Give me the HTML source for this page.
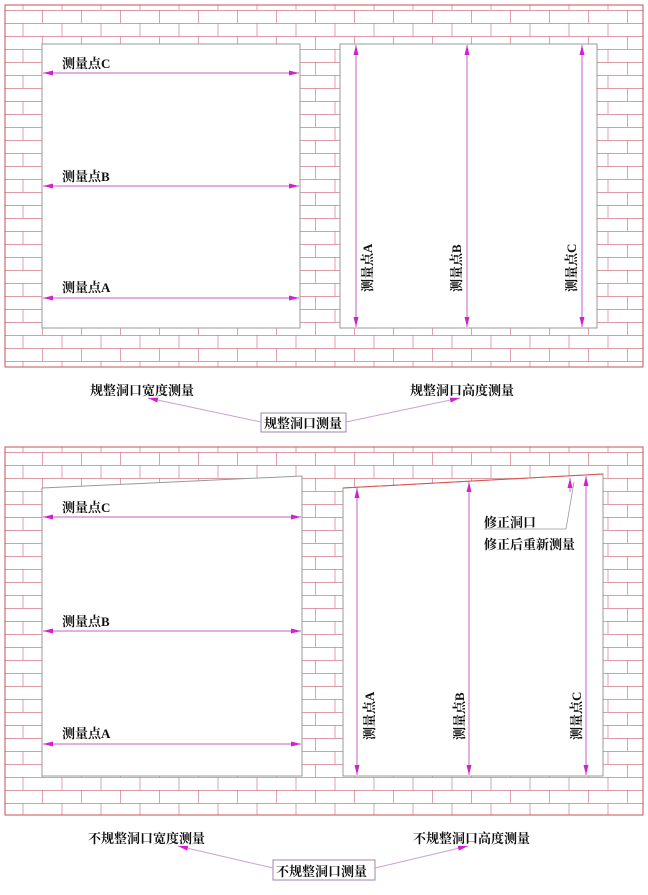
<!DOCTYPE html>
<html><head><meta charset="utf-8"><style>
html,body{margin:0;padding:0;background:#fff}
svg{display:block}
text{font-family:"Liberation Serif","Noto Serif CJK SC",serif;font-size:13px;font-weight:bold;fill:#111}
</style></head><body>
<svg width="648" height="895" viewBox="0 0 648 895" xmlns="http://www.w3.org/2000/svg">
<defs>
<pattern id="brick" x="3" y="10" width="39" height="26" patternUnits="userSpaceOnUse">
<path d="M0 0.5H39M0 13.5H39M0.5 0V13M20 13V26" stroke="#d27a88" stroke-width="0.7" fill="none"/>
</pattern>
<marker id="ah" markerWidth="10" markerHeight="5" refX="10" refY="2.5" orient="auto" markerUnits="userSpaceOnUse">
<path d="M0 0L10 2.5L0 5Z" fill="#d020d0"/>
</marker>
<marker id="as" markerWidth="10" markerHeight="5" refX="0" refY="2.5" orient="auto" markerUnits="userSpaceOnUse">
<path d="M10 0L0 2.5L10 5Z" fill="#d020d0"/>
</marker>
</defs>
<!-- top wall -->
<rect x="5" y="5" width="638" height="362" fill="url(#brick)" stroke="#c9505a" stroke-width="1"/>
<rect x="42" y="44" width="258" height="284" fill="#fff" stroke="#999" stroke-width="1"/>
<rect x="340" y="44" width="257" height="284" fill="#fff" stroke="#999" stroke-width="1"/>
<g stroke="#c060c0" stroke-width="1">
<line x1="43" y1="73" x2="299" y2="73" marker-start="url(#as)" marker-end="url(#ah)"/>
<line x1="43" y1="186" x2="299" y2="186" marker-start="url(#as)" marker-end="url(#ah)"/>
<line x1="43" y1="298" x2="299" y2="298" marker-start="url(#as)" marker-end="url(#ah)"/>
<line x1="356" y1="45" x2="356" y2="327" marker-start="url(#as)" marker-end="url(#ah)"/>
<line x1="467" y1="45" x2="467" y2="327" marker-start="url(#as)" marker-end="url(#ah)"/>
<line x1="582" y1="45" x2="582" y2="327" marker-start="url(#as)" marker-end="url(#ah)"/>
</g>
<text x="62" y="68">测量点C</text>
<text x="62" y="181">测量点B</text>
<text x="62" y="292">测量点A</text>
<text transform="translate(372,292) rotate(-90)">测量点A</text>
<text transform="translate(461,292) rotate(-90)">测量点B</text>
<text transform="translate(576,292) rotate(-90)">测量点C</text>
<!-- top captions -->
<text x="90" y="395">规整洞口宽度测量</text>
<text x="410" y="395">规整洞口高度测量</text>
<rect x="261" y="413" width="85" height="19" fill="#fff" stroke="#a080b0" stroke-width="1"/>
<text x="264" y="428">规整洞口测量</text>
<g stroke="#c8a0d8" stroke-width="1">
<line x1="261" y1="422" x2="148" y2="398" marker-end="url(#ah)"/>
<line x1="346" y1="422" x2="460" y2="398" marker-end="url(#ah)"/>
</g>
<!-- bottom wall -->
<rect x="5" y="447" width="638" height="368" fill="url(#brick)" stroke="#c9505a" stroke-width="1"/>
<polygon points="42,488 302,476 302,776 42,776" fill="#fff" stroke="#999" stroke-width="1"/>
<polygon points="343,488 603,474 603,776 343,776" fill="#fff" stroke="#999" stroke-width="1"/>
<line x1="343" y1="488" x2="603" y2="474" stroke="#e05050" stroke-width="1"/>
<g stroke="#c060c0" stroke-width="1">
<line x1="43" y1="517" x2="301" y2="517" marker-start="url(#as)" marker-end="url(#ah)"/>
<line x1="43" y1="631" x2="301" y2="631" marker-start="url(#as)" marker-end="url(#ah)"/>
<line x1="43" y1="744" x2="301" y2="744" marker-start="url(#as)" marker-end="url(#ah)"/>
<line x1="357" y1="488" x2="357" y2="775" marker-start="url(#as)" marker-end="url(#ah)"/>
<line x1="469" y1="482" x2="469" y2="775" marker-start="url(#as)" marker-end="url(#ah)"/>
<line x1="586" y1="476" x2="586" y2="775" marker-start="url(#as)" marker-end="url(#ah)"/>
<line x1="570" y1="478" x2="570" y2="492" marker-start="url(#as)"/>
</g>
<polyline points="484,529 566,529 574,482" fill="none" stroke="#999" stroke-width="0.8"/>
<text x="62" y="512">测量点C</text>
<text x="62" y="626">测量点B</text>
<text x="62" y="738">测量点A</text>
<text x="484" y="527">修正洞口</text>
<text x="484" y="549">修正后重新测量</text>
<text transform="translate(374,740) rotate(-90)">测量点A</text>
<text transform="translate(464,740) rotate(-90)">测量点B</text>
<text transform="translate(581,740) rotate(-90)">测量点C</text>
<!-- bottom captions -->
<text x="88" y="843">不规整洞口宽度测量</text>
<text x="413" y="843">不规整洞口高度测量</text>
<rect x="273" y="860" width="102" height="20" fill="#fff" stroke="#a080b0" stroke-width="1"/>
<text x="276" y="876">不规整洞口测量</text>
<g stroke="#c8a0d8" stroke-width="1">
<line x1="273" y1="868" x2="178" y2="846" marker-end="url(#ah)"/>
<line x1="375" y1="868" x2="468" y2="846" marker-end="url(#ah)"/>
</g>
</svg>
</body></html>
